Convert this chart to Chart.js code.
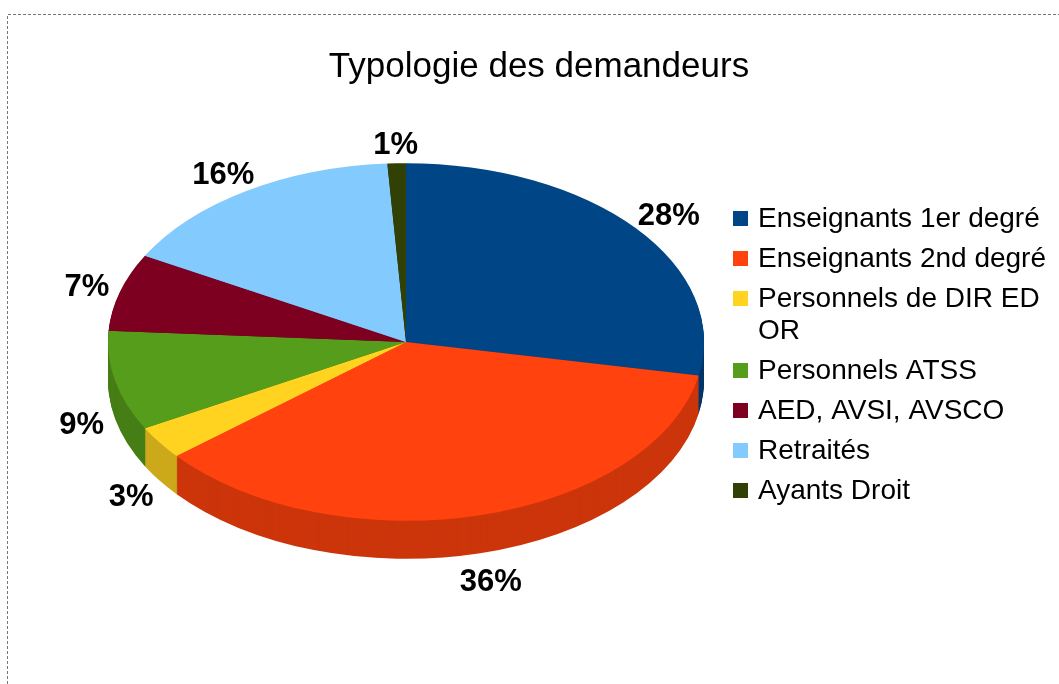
<!DOCTYPE html>
<html><head><meta charset="utf-8">
<script src="https://cdn.jsdelivr.net/npm/chart.js@4/dist/chart.umd.min.js"></script>
<style>html,body{margin:0;padding:0;background:#fff;}canvas{display:block;}</style>
</head><body>
<canvas id="c" width="1059" height="684"></canvas>
<script>
const categories = ["Enseignants 1er degré","Enseignants 2nd degré","Personnels de DIR ED OR","Personnels ATSS","AED, AVSI, AVSCO","Retraités","Ayants Droit"];
const values = [28, 36, 3, 9, 7, 16, 1];
const colors = ["#004586","#ff420e","#ffd320","#579d1c","#7e0021","#83caff","#314004"];
const chartTitle = "Typologie des demandeurs";

const TILT = 0.6;
const DEPTH = 38;

function darken(hex, f) {
  const n = parseInt(hex.slice(1), 16);
  const r = Math.round(((n >> 16) & 255) * f), g = Math.round(((n >> 8) & 255) * f), b = Math.round((n & 255) * f);
  return `rgb(${r},${g},${b})`;
}

function wrap(ctx, text, maxW) {
  const words = text.split(' '); const lines = []; let cur = '';
  words.forEach(w => {
    const t = cur ? cur + ' ' + w : w;
    if (ctx.measureText(t).width > maxW && cur) { lines.push(cur); cur = w; } else cur = t;
  });
  if (cur) lines.push(cur);
  return lines;
}

const pie3d = {
  id: 'pie3d',
  beforeDatasetsDraw(chart) {
    const ctx = chart.ctx;
    const meta = chart.getDatasetMeta(0);
    const cy = meta.data[0].y;
    for (let k = DEPTH; k >= 1; k--) {
      ctx.save();
      ctx.translate(0, cy + k); ctx.scale(1, TILT); ctx.translate(0, -cy);
      meta.data.forEach((arc, i) => {
        const o = arc.options;
        arc.options = Object.assign({}, o, { backgroundColor: darken(colors[i], 0.8), borderWidth: 0 });
        arc.draw(ctx);
        arc.options = o;
      });
      ctx.restore();
    }
    ctx.save();
    ctx.translate(0, cy); ctx.scale(1, TILT); ctx.translate(0, -cy);
  },
  afterDatasetsDraw(chart) {
    const ctx = chart.ctx;
    ctx.restore();
    const meta = chart.getDatasetMeta(0);
    const total = values.reduce((a, b) => a + b, 0);
    ctx.save();
    ctx.fillStyle = '#000';
    ctx.font = 'bold 31px "Liberation Sans", Arial, sans-serif';
    ctx.textAlign = 'center'; ctx.textBaseline = 'middle';
    meta.data.forEach((arc, i) => {
      const txt = Math.round(values[i] / total * 100) + '%';
      const mid = (arc.startAngle + arc.endAngle) / 2;
      const c = Math.cos(mid), s = Math.sin(mid);
      const R = arc.outerRadius + 12;
      const w = ctx.measureText(txt).width, h = 22;
      const x = arc.x + c * R + c * w / 2;
      const y = arc.y + s * R * TILT + (s > 0 ? DEPTH + s * 12 : 0) + s * h / 2;
      ctx.fillText(txt, x, y);
    });
    // title
    ctx.font = '35px "Liberation Sans", Arial, sans-serif';
    ctx.textBaseline = 'alphabetic';
    ctx.fillText(chartTitle, 539, 77);
    // legend
    ctx.font = '28px "Liberation Sans", Arial, sans-serif';
    ctx.textAlign = 'left'; ctx.textBaseline = 'middle';
    let y = 219;
    chart.data.labels.forEach((lab, i) => {
      ctx.fillStyle = colors[i];
      ctx.fillRect(733, y - 8, 15, 15);
      ctx.fillStyle = '#000';
      const lines = wrap(ctx, lab, 292);
      lines.forEach((ln, j) => ctx.fillText(ln, 758, y + j * 32));
      y += 40 + (lines.length - 1) * 32;
    });
    // frame
    ctx.strokeStyle = '#777'; ctx.lineWidth = 1; ctx.setLineDash([3, 2]);
    ctx.beginPath(); ctx.moveTo(7.5, 684); ctx.lineTo(7.5, 14.5); ctx.lineTo(1059, 14.5); ctx.stroke();
    ctx.restore();
  }
};

new Chart(document.getElementById('c'), {
  type: 'pie',
  data: { labels: categories, datasets: [{ data: values, backgroundColor: colors, borderWidth: 0 }] },
  options: {
    responsive: false, devicePixelRatio: 1, animation: false,
    layout: { padding: { left: 108, top: 44, right: 355, bottom: 44 } },
    plugins: { legend: { display: false }, title: { display: false }, tooltip: { enabled: false } }
  },
  plugins: [pie3d]
});
</script>
</body></html>
